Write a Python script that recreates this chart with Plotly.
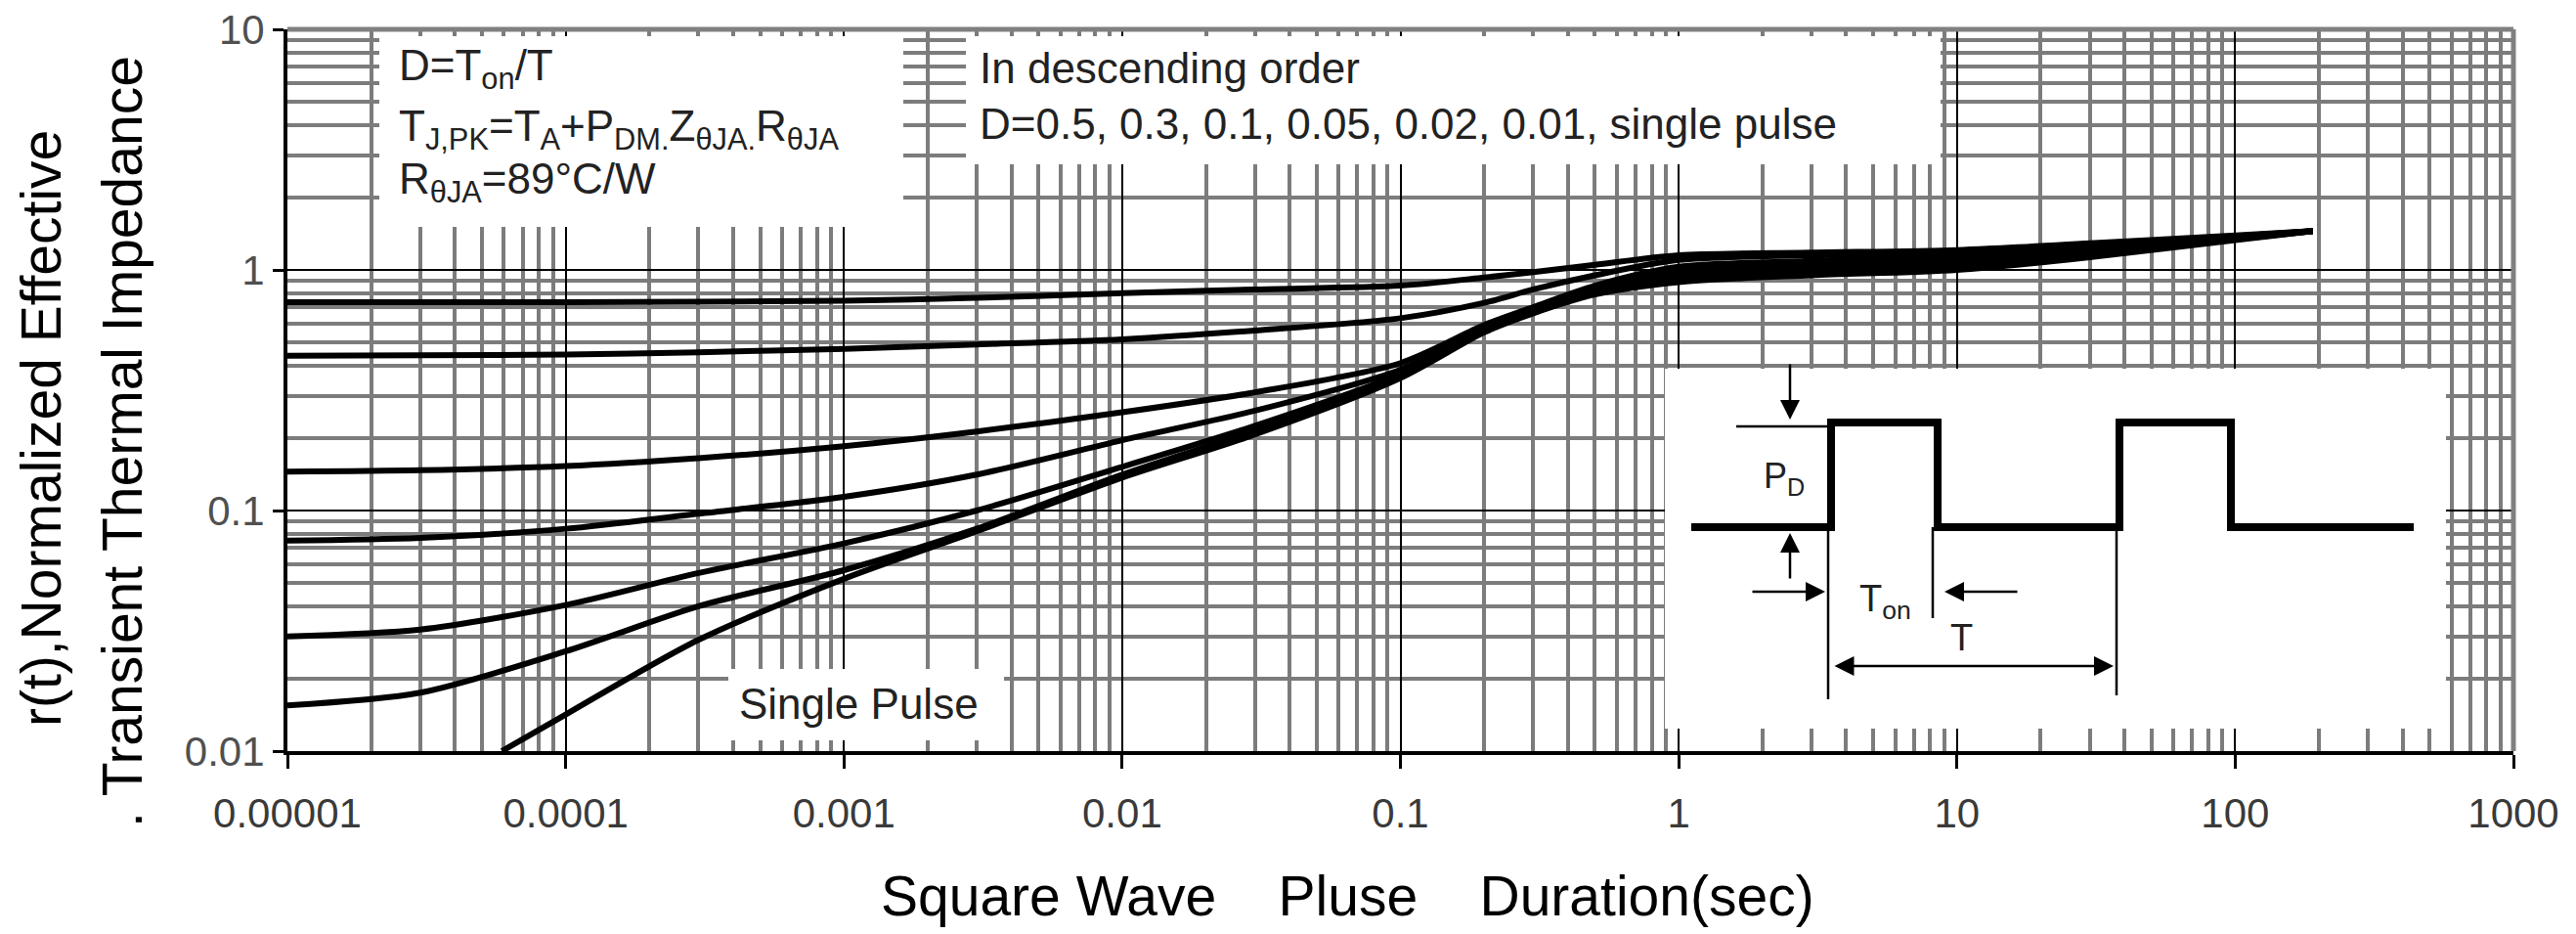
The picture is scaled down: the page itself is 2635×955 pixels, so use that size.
import plotly.graph_objects as go

# ---------------- data ----------------
x_duty = [1e-5, 3e-5, 1e-4, 3e-4, 1e-3, 3e-3, 1e-2, 3e-2, 0.1, 0.2, 0.3, 0.5, 1, 3, 10, 30, 100, 190]
r_d050 = [0.735, 0.735, 0.735, 0.738, 0.745, 0.765, 0.80, 0.83, 0.86, 0.93, 0.98, 1.05, 1.15, 1.18, 1.21, 1.29, 1.39, 1.45]
r_d030 = [0.44, 0.442, 0.445, 0.455, 0.47, 0.49, 0.515, 0.56, 0.63, 0.73, 0.83, 0.95, 1.10, 1.15, 1.19, 1.27, 1.38, 1.45]
r_d010 = [0.145, 0.147, 0.153, 0.165, 0.185, 0.213, 0.256, 0.31, 0.41, 0.59, 0.70, 0.86, 1.03, 1.09, 1.15, 1.24, 1.37, 1.45]
r_d005 = [0.075, 0.077, 0.084, 0.097, 0.114, 0.141, 0.196, 0.26, 0.385, 0.57, 0.68, 0.83, 0.99, 1.05, 1.11, 1.22, 1.36, 1.45]
r_d002 = [0.030, 0.032, 0.0405, 0.055, 0.073, 0.100, 0.152, 0.225, 0.37, 0.56, 0.67, 0.81, 0.95, 1.01, 1.07, 1.19, 1.35, 1.45]
r_d001 = [0.0155, 0.0175, 0.026, 0.040, 0.0565, 0.084, 0.141, 0.215, 0.36, 0.555, 0.665, 0.80, 0.92, 0.98, 1.03, 1.16, 1.34, 1.45]
x_single = [5.9e-5, 1e-4, 3e-4, 1e-3, 3e-3, 1e-2, 3e-2, 0.1, 0.2, 0.3, 0.5, 1, 3, 10, 30, 100, 190]
r_single = [0.010, 0.0142, 0.029, 0.052, 0.082, 0.137, 0.207, 0.355, 0.55, 0.66, 0.79, 0.89, 0.95, 1.00, 1.13, 1.33, 1.45]

series_names = ["D=0.5", "D=0.3", "D=0.1", "D=0.05", "D=0.02", "D=0.01", "Single Pulse"]

x_tickvals = [1e-5, 1e-4, 1e-3, 1e-2, 1e-1, 1, 10, 100, 1000]
x_ticktext = ["0.00001", "0.0001", "0.001", "0.01", "0.1", "1", "10", "100", "1000"]
y_tickvals = [0.01, 0.1, 1, 10]
y_ticktext = ["0.01", "0.1", "1", "10"]

# ---------------- geometry (page pixels; the page body adds an 8px offset) ----------------
OFF = 8
W, H = 2635 - OFF, 955 - OFF
L, R, T, B = 294, 2571, 30, 768          # plot-area edges in page pixels
def PX(xp):
    return (xp - L) / (R - L)
def PY(yp):
    return (B - yp) / (B - T)

FONT = "Liberation Sans, Arial, sans-serif"

fig = go.Figure()
all_y = [r_d050, r_d030, r_d010, r_d005, r_d002, r_d001]
for name, ys in zip(series_names[:-1], all_y):
    fig.add_trace(go.Scatter(x=x_duty, y=ys, mode="lines", name=name,
                             line=dict(color="black", width=6, shape="spline", smoothing=0.8),
                             showlegend=False))
fig.add_trace(go.Scatter(x=x_single, y=r_single, mode="lines", name=series_names[-1],
                         line=dict(color="black", width=6, shape="spline", smoothing=0.8),
                         showlegend=False))

minor_x = [m * 10 ** e for e in range(-5, 3) for m in range(2, 10)]
minor_y = [m * 10 ** e for e in range(-2, 1) for m in range(2, 10)]

fig.update_xaxes(type="log", range=[-5, 3], tickvals=x_tickvals, ticktext=x_ticktext,
                 ticks="outside", ticklen=14, tickwidth=3, tickcolor="black",
                 showline=True, linewidth=4, linecolor="black",
                 showgrid=True, gridcolor="black", gridwidth=1.5,
                 minor=dict(tickvals=minor_x, showgrid=True, gridcolor="#7c7c7c", gridwidth=4, ticks=""),
                 tickfont=dict(family=FONT, size=42, color="#3a3a3a"),
                 ticklabelstandoff=10, ticklabeloverflow="allow", zeroline=False, automargin=False)
fig.update_yaxes(type="log", range=[-2, 1], tickvals=y_tickvals, ticktext=y_ticktext,
                 ticks="outside", ticklen=11, tickwidth=3, tickcolor="black",
                 showline=True, linewidth=4, linecolor="black",
                 showgrid=True, gridcolor="black", gridwidth=1.5,
                 minor=dict(tickvals=minor_y, showgrid=True, gridcolor="#7c7c7c", gridwidth=4, ticks=""),
                 tickfont=dict(family=FONT, size=42, color="#505050"),
                 ticklabeloverflow="allow", zeroline=False, automargin=False)

shapes = []
# top / right frame (gray)
shapes.append(dict(type="line", xref="paper", yref="paper", x0=0, x1=1, y0=1, y1=1,
                   line=dict(color="#808080", width=5), layer="above"))
shapes.append(dict(type="line", xref="paper", yref="paper", x0=1, x1=1, y0=0, y1=1,
                   line=dict(color="#808080", width=5), layer="above"))
# white masks behind the text blocks and the pulse sketch
for (x0, y0, x1, y1) in [(388, 37, 924, 232), (988, 37, 1985, 168), (745, 684, 1027, 757), (1703, 377, 2502, 745)]:
    shapes.append(dict(type="rect", xref="paper", yref="paper", x0=PX(x0), x1=PX(x1), y0=PY(y1), y1=PY(y0),
                       fillcolor="white", line=dict(width=0), layer="above"))

# pulse diagram
wave = [(1730, 539), (1873, 539), (1873, 432), (1982, 432), (1982, 539), (2168, 539),
        (2168, 432), (2282, 432), (2282, 539), (2469, 539)]
path = "M " + " L ".join(f"{PX(a):.5f},{PY(b):.5f}" for a, b in wave)
shapes.append(dict(type="path", xref="paper", yref="paper", path=path,
                   line=dict(color="black", width=8), layer="above"))
for (x0, y0, x1, y1) in [(1776, 436, 1873, 436), (1870, 539, 1870, 715), (1977, 539, 1977, 632), (2165, 539, 2165, 711)]:
    shapes.append(dict(type="line", xref="paper", yref="paper", x0=PX(x0), x1=PX(x1), y0=PY(y0), y1=PY(y1),
                       line=dict(color="black", width=2.5), layer="above"))

ann = []
def text(xp, yp, s, size=44, xanchor="left", color="#222222", angle=0, yanchor="middle"):
    ann.append(dict(x=PX(xp), y=PY(yp), xref="paper", yref="paper", text=s, showarrow=False,
                    xanchor=xanchor, yanchor=yanchor, textangle=angle,
                    font=dict(family=FONT, size=size, color=color)))

text(406, 70, "D=T<sub>on</sub>/T")
text(406, 132, "T<sub>J,PK</sub>=T<sub>A</sub>+P<sub>DM.</sub>Z<sub>θJA.</sub>R<sub>θJA</sub>")
text(406, 186, "R<sub>θJA</sub>=89°C/W")
text(1000, 70, "In descending order")
text(1000, 126, "D=0.5, 0.3, 0.1, 0.05, 0.02, 0.01, single pulse")
text(754, 719, "Single Pulse")
text(1825, 489, "P<sub>D</sub>", size=36, xanchor="center")
text(1928, 615, "T<sub>on</sub>", size=38, xanchor="center")
text(2007, 652, "T", size=38, xanchor="center")

# axis titles
text(1378, 916, "Square Wave\u00a0\u00a0\u00a0\u00a0Pluse\u00a0\u00a0\u00a0\u00a0Duration(sec)", size=57,
     xanchor="center", color="black")
text(42, 438, "r(t),Normalized Effective", size=57, xanchor="center", color="black", angle=-90)
text(125, 452, ".\u00a0Transient Thermal Impedance", size=57, xanchor="center", color="black", angle=-90)

# arrows
def arrow(hx, hy, tx, ty, both=False):
    ann.append(dict(x=PX(hx), y=PY(hy), xref="paper", yref="paper", ax=tx - hx, ay=ty - hy,
                    axref="pixel", ayref="pixel", text="", showarrow=True, arrowhead=2, arrowsize=1.6,
                    arrowwidth=2.5, arrowcolor="black", startarrowhead=2, startarrowsize=1.6,
                    arrowside="end+start" if both else "end"))
arrow(1831, 429, 1831, 371)
arrow(1831, 545, 1831, 593)
arrow(1867, 605, 1791, 605)
arrow(1989, 605, 2065, 605)
arrow(2162, 681, 1875, 681, both=True)

fig.update_layout(width=W, height=H,
                  margin=dict(l=L - OFF, r=(W) - (R - OFF), t=T - OFF, b=(H) - (B - OFF), autoexpand=False),
                  paper_bgcolor="white", plot_bgcolor="white", shapes=shapes, annotations=ann,
                  showlegend=False)

fig.write_html("out.html")
